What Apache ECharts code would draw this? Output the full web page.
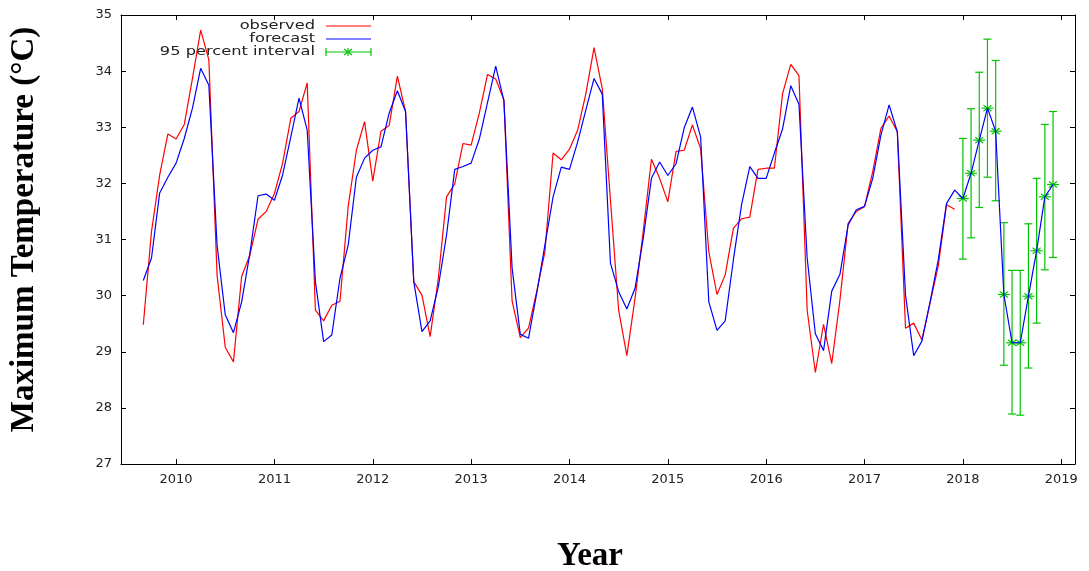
<!DOCTYPE html>
<html>
<head>
<meta charset="utf-8">
<title>Maximum Temperature</title>
<script src="https://cdn.jsdelivr.net/npm/echarts@6/dist/echarts.min.js"></script>
<style>
  html, body { margin: 0; padding: 0; background: #fff; }
  #chart { width: 1089px; height: 571px; }
</style>
</head>
<body>
<div id="chart"></div>
<script>
// monthly series, first value is Sep 2009
var startYear = 2009;
var startMonth = 9;

var observed = [
    29.48, 31.14, 32.15, 32.88,
    32.79, 33.05, 33.87, 34.73, 34.20, 30.37, 29.08, 28.82, 30.34, 30.72, 31.36, 31.50,
    31.82, 32.36, 33.16, 33.28, 33.79, 29.74, 29.55, 29.83, 29.90, 31.59, 32.59, 33.10,
    32.04, 32.93, 33.03, 33.91, 33.28, 30.25, 30.01, 29.27, 30.31, 31.76, 31.99, 32.71,
    32.68, 33.25, 33.94, 33.86, 33.49, 29.90, 29.25, 29.42, 30.07, 30.78, 32.54, 32.42,
    32.61, 32.95, 33.60, 34.42, 33.69, 31.70, 29.74, 28.93, 29.95, 31.15, 32.43, 32.09,
    31.67, 32.57, 32.59, 33.04, 32.62, 30.78, 30.02, 30.37, 31.20, 31.37, 31.40, 32.25,
    32.27, 32.27, 33.60, 34.12, 33.92, 29.74, 28.63, 29.49, 28.79, 29.92, 31.29, 31.50,
    31.59, 32.21, 32.98, 33.20, 32.92, 29.42, 29.51, 29.21, 29.87, 30.53, 31.62, 31.54
];

var forecast = [
    30.27, 30.67, 31.83, 32.11,
    32.36, 32.80, 33.34, 34.05, 33.75, 30.90, 29.66, 29.34, 29.89, 30.75, 31.78, 31.81,
    31.70, 32.15, 32.83, 33.52, 32.95, 30.25, 29.18, 29.30, 30.31, 30.90, 32.11, 32.45,
    32.59, 32.65, 33.25, 33.65, 33.28, 30.25, 29.36, 29.55, 30.16, 31.08, 32.25, 32.30,
    32.36, 32.79, 33.44, 34.09, 33.47, 30.49, 29.31, 29.24, 30.04, 30.90, 31.76, 32.29,
    32.25, 32.74, 33.31, 33.87, 33.59, 30.58, 30.07, 29.76, 30.13, 31.02, 32.09, 32.38,
    32.14, 32.35, 32.99, 33.36, 32.83, 29.89, 29.38, 29.55, 30.64, 31.62, 32.30, 32.09,
    32.09, 32.54, 32.97, 33.74, 33.41, 30.67, 29.32, 29.02, 30.08, 30.38, 31.26, 31.53,
    31.59, 32.09, 32.86, 33.40, 32.92, 30.01, 28.93, 29.19, 29.89, 30.64, 31.64, 31.88,
    31.73, 32.18, 32.77, 33.34, 32.93, 30.02, 29.16, 29.16, 29.99, 30.80, 31.76, 31.98
];

// 95 percent interval, Jan - Dec 2018
var intervalStart = 100;
var lower = [30.65, 31.03, 31.57, 32.11, 31.69, 28.76, 27.89, 27.87, 28.71, 29.51, 30.46, 30.68];
var upper = [32.80, 33.33, 33.98, 34.57, 34.19, 31.30, 30.45, 30.45, 31.28, 32.09, 33.05, 33.28];

var yearTicks = [2010, 2011, 2012, 2013, 2014, 2015, 2016, 2017, 2018, 2019];

function monthTime(i) {
    return startYear + (startMonth - 1 + i) / 12;
}

var observedData = observed.map(function (v, i) { return [monthTime(i), v]; });
var forecastData = forecast.map(function (v, i) { return [monthTime(i), v]; });
var intervalData = lower.map(function (lo, i) {
    var k = intervalStart + i;
    return [monthTime(k), lo, upper[i], forecast[k]];
});

var green = '#00c400';
var tickFont = { color: '#222', fontSize: 13, fontFamily: 'DejaVu Sans' };
var titleFont = { color: '#000', fontSize: 33, fontWeight: 'bold', fontFamily: 'Liberation Serif' };

function renderBar(params, api) {
    var c = api.coord([api.value(0), api.value(3)]);
    var lo = api.coord([api.value(0), api.value(1)]);
    var hi = api.coord([api.value(0), api.value(2)]);
    var x = c[0], y = c[1];
    var segs = [
        [x, lo[1], x, hi[1]],
        [x - 4, lo[1], x + 4, lo[1]],
        [x - 4, hi[1], x + 4, hi[1]],
        [x - 6, y, x + 6, y],
        [x - 4, y - 3, x + 4, y + 3],
        [x - 4, y + 3, x + 4, y - 3]
    ];
    return {
        type: 'group',
        children: segs.map(function (s) {
            return {
                type: 'line',
                shape: { x1: s[0], y1: s[1], x2: s[2], y2: s[3] },
                style: { stroke: green, lineWidth: 1.2 }
            };
        })
    };
}

function legendText(text, y) {
    return {
        type: 'text', x: 315, y: y, scaleX: 1.25,
        style: { text: text, x: 0, y: 0, align: 'right', verticalAlign: 'middle',
                 fill: '#222', font: '13px "DejaVu Sans"' }
    };
}

function legendLine(y, color) {
    return {
        type: 'line',
        shape: { x1: 326, y1: y, x2: 371, y2: y },
        style: { stroke: color, lineWidth: 1.2 }
    };
}

var chart = echarts.init(document.getElementById('chart'));
var option = {
    animation: false,
    backgroundColor: '#fff',
    grid: { left: 121, right: 14, top: 15, bottom: 107, outerBoundsMode: 'none' },
    xAxis: [
        {
            type: 'value', min: 2009.44, max: 2019.14,
            name: 'Year', nameLocation: 'middle', nameGap: 76,
            nameTextStyle: Object.assign({ padding: [0, 16, 0, 0] }, titleFont),
            axisLine: { onZero: false, lineStyle: { color: '#000', width: 1 } },
            axisTick: { inside: true, length: 5, customValues: yearTicks, lineStyle: { color: '#000' } },
            axisLabel: Object.assign({
                customValues: yearTicks, margin: 9,
                formatter: function (v) { return String(v); }
            }, tickFont),
            splitLine: { show: false }
        },
        {
            type: 'value', position: 'top', min: 2009.44, max: 2019.14,
            axisLine: { onZero: false, lineStyle: { color: '#000', width: 1 } },
            axisTick: { inside: true, length: 5, customValues: yearTicks, lineStyle: { color: '#000' } },
            axisLabel: { show: false },
            splitLine: { show: false }
        }
    ],
    yAxis: [
        {
            type: 'value', min: 27, max: 35, interval: 1,
            name: 'Maximum Temperature (°C)', nameLocation: 'middle', nameGap: 80,
            nameTextStyle: Object.assign({ padding: [0, 0, 0, 20] }, titleFont),
            axisLine: { show: true, onZero: false, lineStyle: { color: '#000', width: 1 } },
            axisTick: { show: true, inside: true, length: 5, lineStyle: { color: '#000' } },
            axisLabel: Object.assign({ margin: 9 }, tickFont),
            splitLine: { show: false }
        },
        {
            type: 'value', position: 'right', min: 27, max: 35, interval: 1,
            axisLine: { show: true, onZero: false, lineStyle: { color: '#000', width: 1 } },
            axisTick: { show: true, inside: true, length: 5, lineStyle: { color: '#000' } },
            axisLabel: { show: false },
            splitLine: { show: false }
        }
    ],
    series: [
        {
            name: 'observed', type: 'line', data: observedData,
            symbol: 'none', lineStyle: { color: '#ff0000', width: 1.2 }
        },
        {
            name: 'forecast', type: 'line', data: forecastData,
            symbol: 'none', lineStyle: { color: '#0000ff', width: 1.2 }
        },
        {
            name: '95 percent interval', type: 'custom', data: intervalData,
            renderItem: renderBar, z: 3
        }
    ],
    graphic: [
        legendText('observed', 26),
        legendText('forecast', 39),
        legendText('95 percent interval', 52),
        legendLine(26, '#ff0000'),
        legendLine(39, '#0000ff'),
        legendLine(52, green),
        { type: 'line', shape: { x1: 326, y1: 48, x2: 326, y2: 56 }, style: { stroke: green, lineWidth: 1.2 } },
        { type: 'line', shape: { x1: 371, y1: 48, x2: 371, y2: 56 }, style: { stroke: green, lineWidth: 1.2 } },
        { type: 'line', shape: { x1: 344, y1: 49, x2: 352, y2: 55 }, style: { stroke: green, lineWidth: 1.2 } },
        { type: 'line', shape: { x1: 344, y1: 55, x2: 352, y2: 49 }, style: { stroke: green, lineWidth: 1.2 } },
        { type: 'line', shape: { x1: 348, y1: 48, x2: 348, y2: 56 }, style: { stroke: green, lineWidth: 1.2 } }
    ]
};
chart.setOption(option);
</script>
</body>
</html>
